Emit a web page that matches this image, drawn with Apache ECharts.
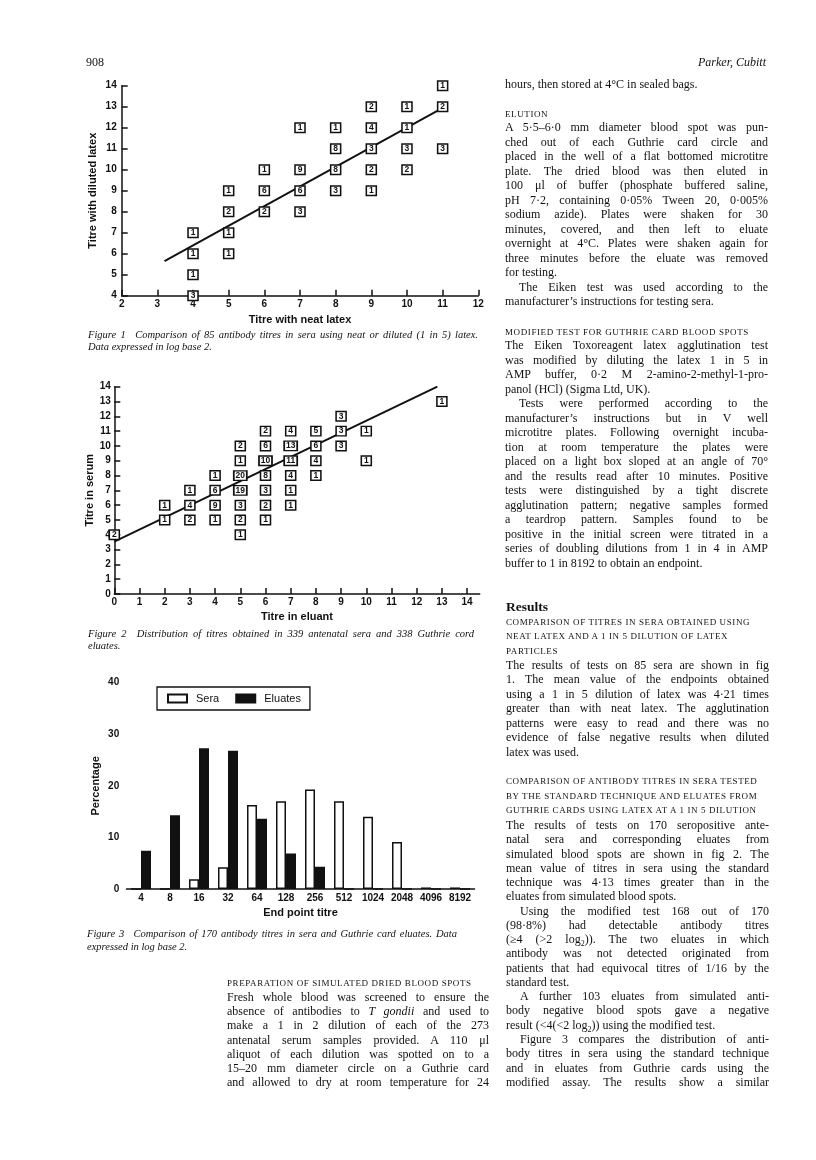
<!DOCTYPE html>
<html>
<head>
<meta charset="utf-8">
<script src="https://cdn.jsdelivr.net/npm/echarts@6/dist/echarts.min.js"></script>
<style>
body { margin: 0; background: #fff; }
#page { position: relative; width: 816px; height: 1160px; }
#chart { position: absolute; left: 0; top: 0; width: 816px; height: 1160px; }
.t { position: absolute; font-family: "Liberation Serif", serif; color: #111; font-size: 12px; }
.t div { text-align: justify; text-align-last: justify; }
.t div.l { text-align-last: left; }
.t div.i { text-indent: 14px; }
.sc { font-size: 9px; letter-spacing: 0.6px; }
.sc div { text-align-last: left !important; }
.cap { font-style: italic; font-size: 10.5px; }
</style>
</head>
<body>
<div id="page">
<div id="chart"></div>

<div class="t" style="left:86px;top:55px;line-height:14px;">908</div>
<div class="t" style="right:50px;top:55px;line-height:14px;font-style:italic;">Parker, Cubitt</div>

<div class="t cap" style="left:88px;top:329px;width:390px;line-height:11.5px;">
<div>Figure 1&ensp; Comparison of 85 antibody titres in sera using neat or diluted (1 in 5) latex.</div>
<div class="l">Data expressed in log base 2.</div>
</div>
<div class="t cap" style="left:88px;top:628px;width:386px;line-height:12px;">
<div>Figure 2&ensp; Distribution of titres obtained in 339 antenatal sera and 338 Guthrie cord</div>
<div class="l">eluates.</div>
</div>
<div class="t cap" style="left:87px;top:928px;width:370px;line-height:12.5px;">
<div>Figure 3&ensp; Comparison of 170 antibody titres in sera and Guthrie card eluates. Data</div>
<div class="l">expressed in log base 2.</div>
</div>

<!-- left column, bottom -->
<div class="t sc" style="left:227px;top:977px;width:262px;line-height:12px;"><div>PREPARATION OF SIMULATED DRIED BLOOD SPOTS</div></div>
<div class="t" style="left:227px;top:990px;width:262px;line-height:14.17px;">
<div>Fresh whole blood was screened to ensure the</div>
<div>absence of antibodies to <i>T gondii</i> and used to</div>
<div>make a 1 in 2 dilution of each of the 273</div>
<div>antenatal serum samples provided. A 110&nbsp;μl</div>
<div>aliquot of each dilution was spotted on to a</div>
<div>15–20 mm diameter circle on a Guthrie card</div>
<div>and allowed to dry at room temperature for 24</div>
</div>

<!-- right column, top -->
<div class="t" style="left:505px;top:77px;width:263px;line-height:14.5px;"><div class="l">hours, then stored at 4°C in sealed bags.</div></div>
<div class="t sc" style="left:505px;top:108px;width:263px;line-height:12px;"><div>ELUTION</div></div>
<div class="t" style="left:505px;top:120px;width:263px;line-height:14.5px;">
<div>A 5·5–6·0 mm diameter blood spot was pun-</div>
<div>ched out of each Guthrie card circle and</div>
<div>placed in the well of a flat bottomed microtitre</div>
<div>plate. The dried blood was then eluted in</div>
<div>100 μl of buffer (phosphate buffered saline,</div>
<div>pH 7·2, containing 0·05% Tween 20, 0·005%</div>
<div>sodium azide). Plates were shaken for 30</div>
<div>minutes, covered, and then left to eluate</div>
<div>overnight at 4°C. Plates were shaken again for</div>
<div>three minutes before the eluate was removed</div>
<div class="l">for testing.</div>
<div class="i">The Eiken test was used according to the</div>
<div class="l">manufacturer’s instructions for testing sera.</div>
</div>
<div class="t sc" style="left:505px;top:326px;width:263px;line-height:12px;"><div>MODIFIED TEST FOR GUTHRIE CARD BLOOD SPOTS</div></div>
<div class="t" style="left:505px;top:338px;width:263px;line-height:14.5px;">
<div>The Eiken Toxoreagent latex agglutination test</div>
<div>was modified by diluting the latex 1 in 5 in</div>
<div>AMP buffer, 0·2 M 2-amino-2-methyl-1-pro-</div>
<div class="l">panol (HCl) (Sigma Ltd, UK).</div>
<div class="i">Tests were performed according to the</div>
<div>manufacturer’s instructions but in V well</div>
<div>microtitre plates. Following overnight incuba-</div>
<div>tion at room temperature the plates were</div>
<div>placed on a light box sloped at an angle of 70°</div>
<div>and the results read after 10 minutes. Positive</div>
<div>tests were distinguished by a tight discrete</div>
<div>agglutination pattern; negative samples formed</div>
<div>a teardrop pattern. Samples found to be</div>
<div>positive in the initial screen were titrated in a</div>
<div>series of doubling dilutions from 1 in 4 in AMP</div>
<div class="l">buffer to 1 in 8192 to obtain an endpoint.</div>
</div>

<!-- right column, bottom -->
<div class="t" style="left:506px;top:599px;line-height:15px;font-weight:bold;font-size:13.5px;">Results</div>
<div class="t sc" style="left:506px;top:615px;width:263px;line-height:14.35px;">
<div>COMPARISON OF TITRES IN SERA OBTAINED USING</div>
<div>NEAT LATEX AND A 1 IN 5 DILUTION OF LATEX</div>
<div>PARTICLES</div>
</div>
<div class="t" style="left:506px;top:658px;width:263px;line-height:14.45px;">
<div>The results of tests on 85 sera are shown in fig</div>
<div>1. The mean value of the endpoints obtained</div>
<div>using a 1 in 5 dilution of latex was 4·21 times</div>
<div>greater than with neat latex. The agglutination</div>
<div>patterns were easy to read and there was no</div>
<div>evidence of false negative results when diluted</div>
<div class="l">latex was used.</div>
</div>
<div class="t sc" style="left:506px;top:774px;width:263px;line-height:14.6px;">
<div>COMPARISON OF ANTIBODY TITRES IN SERA TESTED</div>
<div>BY THE STANDARD TECHNIQUE AND ELUATES FROM</div>
<div>GUTHRIE CARDS USING LATEX AT A 1 IN 5 DILUTION</div>
</div>
<div class="t" style="left:506px;top:818px;width:263px;line-height:14.27px;">
<div>The results of tests on 170 seropositive ante-</div>
<div>natal sera and corresponding eluates from</div>
<div>simulated blood spots are shown in fig 2. The</div>
<div>mean value of titres in sera using the standard</div>
<div>technique was 4·13 times greater than in the</div>
<div class="l">eluates from simulated blood spots.</div>
<div class="i">Using the modified test 168 out of 170</div>
<div>(98·8%) had detectable antibody titres</div>
<div>(≥4 (&gt;2 log<sub style="font-size:8px;line-height:0">2</sub>)). The two eluates in which</div>
<div>antibody was not detected originated from</div>
<div>patients that had equivocal titres of 1/16 by the</div>
<div class="l">standard test.</div>
<div class="i">A further 103 eluates from simulated anti-</div>
<div>body negative blood spots gave a negative</div>
<div class="l">result (&lt;4(&lt;2 log<sub style="font-size:8px;line-height:0">2</sub>)) using the modified test.</div>
<div class="i">Figure 3 compares the distribution of anti-</div>
<div>body titres in sera using the standard technique</div>
<div>and in eluates from Guthrie cards using the</div>
<div>modified assay. The results show a similar</div>
</div>
</div>

<script>
var chart = echarts.init(document.getElementById('chart'), null, { renderer: 'canvas' });

// Figure 1: [neat latex titre, diluted latex titre, number of sera]
var fig1Points = [
    [4, 7, 1], [4, 6, 1], [4, 5, 1], [4, 4, 3],
    [5, 9, 1], [5, 8, 2], [5, 7, 1], [5, 6, 1],
    [6, 10, 1], [6, 9, 6], [6, 8, 2],
    [7, 12, 1], [7, 10, 9], [7, 9, 6], [7, 8, 3],
    [8, 12, 1], [8, 11, 8], [8, 10, 8], [8, 9, 3],
    [9, 13, 2], [9, 12, 4], [9, 11, 3], [9, 10, 2], [9, 9, 1],
    [10, 13, 1], [10, 12, 1], [10, 11, 3], [10, 10, 2],
    [11, 14, 1], [11, 13, 2], [11, 11, 3]
];
var fig1Line = [[3.2, 5.65], [10.9, 12.85]];

// Figure 2: [titre in eluant, titre in serum, count]
var fig2Points = [
    [0, 4, 2],
    [2, 6, 1], [2, 5, 1],
    [3, 7, 1], [3, 6, 4], [3, 5, 2],
    [4, 8, 1], [4, 7, 6], [4, 6, 9], [4, 5, 1],
    [5, 10, 2], [5, 9, 1], [5, 8, 20], [5, 7, 19], [5, 6, 3], [5, 5, 2], [5, 4, 1],
    [6, 11, 2], [6, 10, 6], [6, 9, 10], [6, 8, 8], [6, 7, 3], [6, 6, 2], [6, 5, 1],
    [7, 11, 4], [7, 10, 13], [7, 9, 11], [7, 8, 4], [7, 7, 1], [7, 6, 1],
    [8, 11, 5], [8, 10, 6], [8, 9, 4], [8, 8, 1],
    [9, 12, 3], [9, 11, 3], [9, 10, 3],
    [10, 11, 1], [10, 9, 1],
    [13, 13, 1]
];
var fig2Line = [[0, 3.53], [12.82, 14]];
var fig2XTicks = [0, 1, 2, 3, 4, 5, 6, 7, 8, 9, 10, 11, 12, 13, 14];

// Figure 3: percentages by end point titre
var titres = ['4', '8', '16', '32', '64', '128', '256', '512', '1024', '2048', '4096', '8192'];
var seraPct = [0, 0, 1.9, 4.2, 16.3, 17.0, 19.3, 17.0, 14.0, 9.1, 0.3, 0.3];
var eluatePct = [7.4, 14.3, 27.3, 26.8, 13.6, 6.9, 4.3, 0, 0, 0, 0, 0];

var ink = '#111';
var fontFam = '"Liberation Sans", Arial, sans-serif';

function axisBase(extra) {
    var a = {
        axisLine: { lineStyle: { color: ink, width: 1.5 } },
        axisTick: { inside: true, length: 6, lineStyle: { color: ink, width: 1.5 } },
        splitLine: { show: false },
        axisLabel: { color: ink, fontFamily: fontFam, fontWeight: 'bold', fontSize: 10, margin: 4 },
        nameLocation: 'middle',
        nameTextStyle: { color: ink, fontFamily: fontFam, fontWeight: 'bold', fontSize: 11 }
    };
    for (var k in extra) a[k] = extra[k];
    return a;
}

function boxSeries(data, xi) {
    return {
        type: 'scatter',
        xAxisIndex: xi,
        yAxisIndex: xi,
        data: data,
        clip: false,
        z: 5,
        symbol: 'rect',
        symbolSize: function (v) { return v[2] >= 10 ? [13, 9.5] : [10, 9.5]; },
        itemStyle: { color: '#fff', borderColor: ink, borderWidth: 1.5, opacity: 1 },
        label: {
            show: true,
            position: 'inside',
            formatter: function (p) { return p.value[2]; },
            color: ink,
            fontFamily: fontFam,
            fontWeight: 'bold',
            fontSize: 8.5
        },
        silent: true
    };
}

function fitSeries(data, xi) {
    return {
        type: 'line',
        xAxisIndex: xi,
        yAxisIndex: xi,
        data: data,
        showSymbol: false,
        symbol: 'none',
        z: 2,
        lineStyle: { color: ink, width: 1.9 },
        silent: true
    };
}

var option = {
    animation: false,
    grid: [
        { left: 121.7, top: 85.7, width: 356.6, height: 210 },
        { left: 114.3, top: 386.7, width: 365.4, height: 207.3 },
        { left: 126.5, top: 682.7, width: 348, height: 206.3 }
    ],
    legend: {
        data: ['Sera', 'Eluates'],
        left: 157,
        top: 687,
        orient: 'horizontal',
        icon: 'rect',
        itemWidth: 19,
        itemHeight: 8,
        itemGap: 16,
        padding: [6, 9, 6, 10],
        borderColor: ink,
        borderWidth: 1.3,
        selectedMode: false,
        textStyle: { color: ink, fontFamily: fontFam, fontSize: 11, padding: [0, 0, 0, 4] }
    },
    xAxis: [
        axisBase({ type: 'value', gridIndex: 0, min: 2, max: 12, interval: 1,
            name: 'Titre with neat latex', nameGap: 19 }),
        axisBase({ type: 'value', gridIndex: 1, min: 0, max: 14.5, interval: 1,
            name: 'Titre in eluant', nameGap: 17,
            axisTick: { inside: true, length: 6, lineStyle: { color: ink, width: 1.5 }, customValues: fig2XTicks },
            axisLabel: { color: ink, fontFamily: fontFam, fontWeight: 'bold', fontSize: 10, margin: 3, customValues: fig2XTicks } }),
        axisBase({ type: 'category', gridIndex: 2, data: titres,
            name: 'End point titre', nameGap: 18,
            axisTick: { show: false } })
    ],
    yAxis: [
        axisBase({ type: 'value', gridIndex: 0, min: 4, max: 14, interval: 1,
            name: 'Titre with diluted latex', nameGap: 23,
            axisLabel: { color: ink, fontFamily: fontFam, fontWeight: 'bold', fontSize: 10, margin: 5 } }),
        axisBase({ type: 'value', gridIndex: 1, min: 0, max: 14, interval: 1,
            name: 'Titre in serum', nameGap: 17,
            axisLabel: { color: ink, fontFamily: fontFam, fontWeight: 'bold', fontSize: 10, margin: 3.5 } }),
        axisBase({ type: 'value', gridIndex: 2, min: 0, max: 40, interval: 10, offset: 3.8,
            name: 'Percentage', nameGap: 21,
            axisLabel: { color: ink, fontFamily: fontFam, fontWeight: 'bold', fontSize: 10, margin: 3.5 } })
    ],
    series: [
        fitSeries(fig1Line, 0),
        boxSeries(fig1Points, 0),
        fitSeries(fig2Line, 1),
        boxSeries(fig2Points, 1),
        {
            name: 'Sera',
            type: 'bar',
            xAxisIndex: 2,
            yAxisIndex: 2,
            data: seraPct,
            barWidth: 10,
            barGap: '0%',
            itemStyle: { color: '#fff', borderColor: ink, borderWidth: 1.5 }
        },
        {
            name: 'Eluates',
            type: 'bar',
            xAxisIndex: 2,
            yAxisIndex: 2,
            data: eluatePct,
            barWidth: 10,
            barGap: '0%',
            itemStyle: { color: ink, borderColor: ink, borderWidth: 1.5 }
        }
    ]
};
chart.setOption(option);
</script>
</body>
</html>
